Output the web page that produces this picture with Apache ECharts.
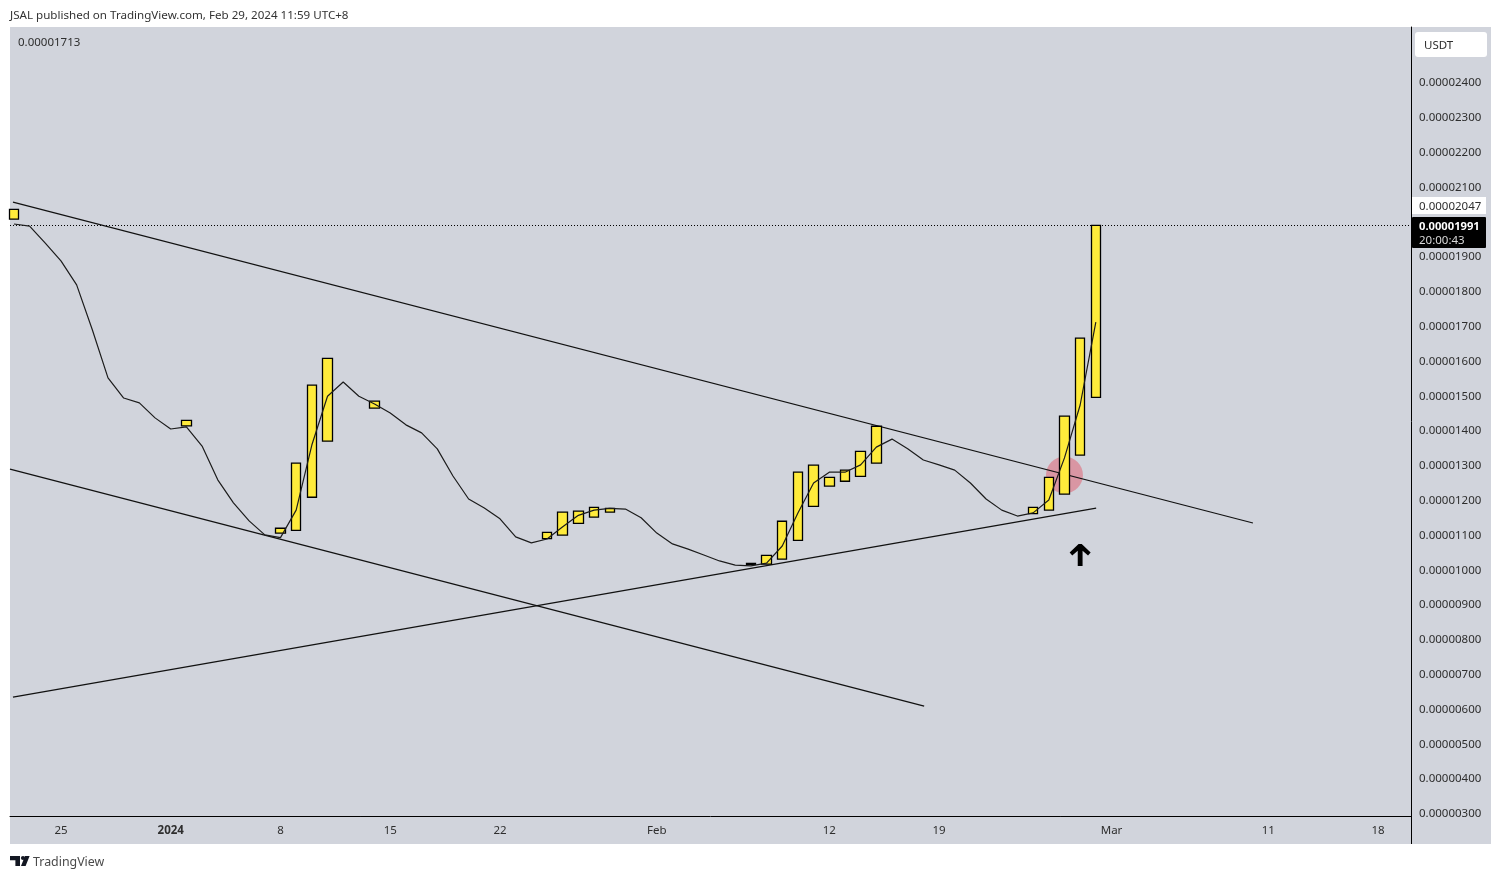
<!DOCTYPE html>
<html>
<head>
<meta charset="utf-8">
<title>JSAL chart</title>
<style>
html, body { margin: 0; padding: 0; background: #fff; }
#chart { width: 1501px; height: 879px; }
</style>
<script src="https://cdn.jsdelivr.net/npm/echarts@6/dist/echarts.min.js"></script>
</head>
<body>
<div id="chart"></div>
<script>
// x is days from 2024-01-01, prices are in units of 0.00000001
var barDays   = [-10, 1, 7, 8, 9, 10, 13, 24, 25, 26, 27, 28, 37, 38, 39, 40, 41, 42, 43, 44, 45, 55, 56, 57, 58, 59];
var barOpens  = [2009, 1415, 1107, 1115, 1210, 1371, 1466, 1091, 1101, 1135, 1153, 1167, 1017, 1018, 1032, 1086, 1184, 1242, 1256, 1270, 1308, 1163, 1173, 1219, 1331, 1497];
var barCloses = [2037, 1431, 1121, 1308, 1532, 1609, 1486, 1109, 1167, 1170, 1181, 1178, 1020, 1043, 1141, 1282, 1302, 1267, 1288, 1342, 1414, 1181, 1267, 1443, 1667, 1991];

var maStartDay = -10;
var maValues = [1995, 1989, 1940, 1889, 1820, 1691, 1553, 1495, 1481, 1438,
    1406, 1412, 1357, 1260, 1194, 1142, 1102, 1094, 1173, 1360,
    1500, 1541, 1500, 1478, 1452, 1418, 1395, 1349, 1271, 1205,
    1179, 1148, 1096, 1079, 1090, 1125, 1158, 1173, 1178, 1176,
    1151, 1107, 1076, 1061, 1044, 1027, 1015, 1013, 1021, 1070,
    1165, 1251, 1282, 1282, 1303, 1354, 1377, 1349, 1317, 1303,
    1288, 1251, 1205, 1173, 1156, 1165, 1202, 1323, 1475, 1713];

var upperTrend = [[-10.06, 2058], [69.02, 1136]];
var lowerTrend = [[-10.25, 1291], [48.05, 610]];
var risingTrend = [[-10.06, 636], [59.02, 1179]];
var circlePoint = [[57, 1274]];
var arrowPoint = [[58, 1044]];
var lastPrice = 1991;

var priceTicks = [300, 400, 500, 600, 700, 800, 900, 1000, 1100, 1200, 1300, 1400, 1500, 1600, 1700, 1800, 1900, 2100, 2200, 2300, 2400];
var dayTicks = [-7, 0, 7, 14, 21, 31, 42, 49, 60, 70, 77];
var dayLabels = ['25', '2024', '8', '15', '22', 'Feb', '12', '19', 'Mar', '11', '18'];

function price_text(v)
{
    return (v / 100000000).toFixed(8);
}

function build_candles()
{
    var list = [];
    barDays.forEach(function(day, i){
        list.push([day, barOpens[i], barCloses[i], barOpens[i], barCloses[i]]);
    });
    return list;
}

function build_ma()
{
    var list = [];
    maValues.forEach(function(v, i){
        list.push([maStartDay + i, v]);
    });
    return list;
}

function trend_series(points)
{
    return {
        type: 'line',
        data: points,
        z: 3,
        showSymbol: false,
        silent: true,
        lineStyle: { color: '#111', width: 1.2 }
    };
}

var fontName = '"Noto Sans", sans-serif';
var textColor = '#2e2e2e';

var myChart = echarts.init(document.getElementById('chart'));
var option = {
    animation: false,
    backgroundColor: '#fff',
    textStyle: { fontFamily: fontName },
    grid: { left: 10, right: 90, top: 27, bottom: 63, containLabel: false },
    xAxis: {
        type: 'value',
        min: -10.25,
        max: 79.1,
        splitLine: { show: false },
        axisTick: { show: false },
        axisLine: { lineStyle: { color: '#000', width: 1 } },
        axisLabel: {
            customValues: dayTicks,
            color: textColor,
            fontSize: 11.5,
            margin: 9,
            rich: { y: { fontWeight: 'bold', fontSize: 11.5, color: textColor } },
            formatter: function(v){
                var s = dayLabels[dayTicks.indexOf(v)];
                return s == '2024' ? '{y|' + s + '}' : s;
            }
        }
    },
    yAxis: {
        type: 'value',
        position: 'right',
        min: 294.3,
        max: 2560.9,
        splitLine: { show: false },
        axisTick: { show: false },
        axisLine: { show: true, onZero: false, lineStyle: { color: '#000', width: 1 } },
        axisLabel: {
            customValues: priceTicks,
            color: textColor,
            fontSize: 11.5,
            margin: 8,
            formatter: price_text
        }
    },
    series: [
        {
            type: 'scatter',
            data: circlePoint,
            z: 1,
            silent: true,
            symbolSize: 37,
            itemStyle: { color: 'rgba(226, 84, 100, 0.48)', opacity: 1 }
        },
        trend_series(upperTrend),
        trend_series(lowerTrend),
        trend_series(risingTrend),
        {
            type: 'candlestick',
            data: build_candles(),
            encode: { x: 0, y: [1, 2, 3, 4] },
            z: 4,
            silent: true,
            barWidth: 10,
            itemStyle: {
                color: '#ffeb3b',
                color0: '#ffeb3b',
                borderColor: '#000',
                borderColor0: '#000',
                borderWidth: 1.3
            }
        },
        {
            type: 'line',
            data: build_ma(),
            z: 5,
            showSymbol: false,
            silent: true,
            lineStyle: { color: '#1c1c1c', width: 1.2 },
            markLine: {
                silent: true,
                symbol: 'none',
                label: { show: false },
                lineStyle: { color: '#000', type: [1, 2], width: 1 },
                data: [{ yAxis: lastPrice }]
            }
        },
        {
            type: 'scatter',
            data: arrowPoint,
            z: 6,
            silent: true,
            symbol: 'path://M8.5 0 L11.5 0 L20 8.5 L17.5 11.5 L12.3 6.6 L12.3 22 L7.7 22 L7.7 6.6 L2.5 11.5 L0 8.5 Z',
            symbolSize: [21, 22],
            itemStyle: { color: '#000', opacity: 1 }
        }
    ],
    graphic: {
        elements: [
            { type: 'rect', z: -10, silent: true, shape: { x: 10, y: 27, width: 1481, height: 817 }, style: { fill: '#d1d4dc' } },
            { type: 'line', z: 10, silent: true, shape: { x1: 1411.5, y1: 816, x2: 1411.5, y2: 844 }, style: { stroke: '#000', lineWidth: 1 } },
            { type: 'text', z: 10, x: 10, y: 10, silent: true, style: { text: 'JSAL published on TradingView.com, Feb 29, 2024 11:59 UTC+8', fill: '#333', font: '11.6px ' + fontName } },
            { type: 'text', z: 10, x: 18, y: 36.5, silent: true, style: { text: '0.00001713', fill: textColor, font: '11.5px ' + fontName } },
            { type: 'rect', z: 10, silent: true, shape: { x: 1415, y: 32, width: 72, height: 25, r: 3 }, style: { fill: '#fff' } },
            { type: 'text', z: 11, x: 1424, y: 40, silent: true, style: { text: 'USDT', fill: textColor, font: '11.5px ' + fontName } },
            { type: 'rect', z: 10, silent: true, shape: { x: 1412, y: 197, width: 74, height: 17 }, style: { fill: '#fff' } },
            { type: 'text', z: 11, x: 1419, y: 201, silent: true, style: { text: price_text(2047), fill: textColor, font: '11.5px ' + fontName } },
            { type: 'rect', z: 10, silent: true, shape: { x: 1412, y: 217, width: 74, height: 31, r: 1 }, style: { fill: '#000' } },
            { type: 'text', z: 11, x: 1419, y: 221, silent: true, style: { text: price_text(lastPrice), fill: '#fff', font: 'bold 11.2px ' + fontName } },
            { type: 'text', z: 11, x: 1419, y: 235, silent: true, style: { text: '20:00:43', fill: '#d8d8d8', font: '11.5px ' + fontName } },
            { type: 'polygon', z: 10, silent: true, shape: { points: [[10, 856], [20, 856], [20, 866], [15.4, 866], [15.4, 860.3], [10, 860.3]] }, style: { fill: '#131722' } },
            { type: 'polygon', z: 10, silent: true, shape: { points: [[25, 856], [29.6, 856], [25.6, 866], [21, 866]] }, style: { fill: '#131722' } },
            { type: 'circle', z: 10, silent: true, shape: { cx: 23, cy: 858, r: 2.1 }, style: { fill: '#131722' } },
            { type: 'text', z: 10, x: 33, y: 856, silent: true, style: { text: 'TradingView', fill: '#4a4a4a', font: '12.4px ' + fontName } }
        ]
    }
};
myChart.setOption(option);
</script>
</body>
</html>
